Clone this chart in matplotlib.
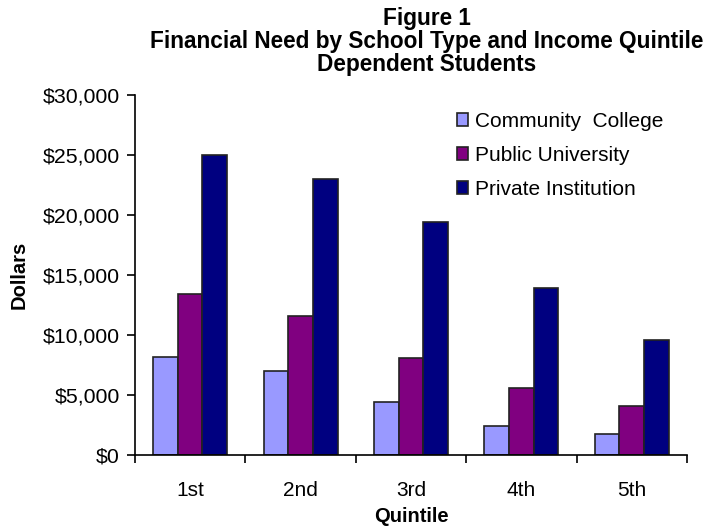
import numpy as np
import matplotlib.pyplot as plt
from matplotlib.ticker import FuncFormatter

plt.rcParams['font.family'] = ['Liberation Sans', 'DejaVu Sans']

quintiles = ["1st", "2nd", "3rd", "4th", "5th"]
community = [8200, 7000, 4400, 2400, 1750]
public = [13400, 11600, 8100, 5600, 4100]
private = [25000, 23000, 19400, 13900, 9600]

series = [("Community  College", community, "#9999FF"),
          ("Public University", public, "#800080"),
          ("Private Institution", private, "#000080")]

fig = plt.figure(figsize=(7.16, 5.29), dpi=100)
ax = fig.add_axes([0.1885, 0.14, 0.771, 0.6805])

x = np.arange(len(quintiles))
w = 0.223
for i, (name, vals, col) in enumerate(series):
    ax.bar(x + (i - 1) * w, vals, w, color=col, edgecolor="#222222",
           linewidth=1.2, label=name)

ax.set_xlim(-0.5, len(quintiles) - 0.5)
ax.set_ylim(0, 30000)
ax.set_yticks(np.arange(0, 30001, 5000))
ax.yaxis.set_major_formatter(FuncFormatter(lambda v, p: "${:,.0f}".format(v)))
ax.set_xticks(x)
ax.set_xticklabels(quintiles)
ax.set_xticks(np.arange(-0.5, len(quintiles), 1), minor=True)
ax.tick_params(axis="x", which="major", length=0, pad=19, labelsize=15)
ax.tick_params(axis="x", which="minor", length=6, width=1.2, direction="out")
ax.tick_params(axis="y", length=6, width=1.2, labelsize=15.3, pad=5)

for s in ["top", "right"]:
    ax.spines[s].set_visible(False)
for s in ["left", "bottom"]:
    ax.spines[s].set_linewidth(1.2)

ax.set_xlabel("Quintile", fontsize=14.5, fontweight="bold", labelpad=5)
ax.set_ylabel("Dollars", fontsize=14.5, fontweight="bold", labelpad=10)

fig.suptitle("Figure 1\nFinancial Need by School Type and Income Quintile\nDependent Students",
             x=0.596, y=0.987, fontsize=16.3, fontweight="bold", linespacing=1.0)

leg = ax.legend(loc="upper left", bbox_to_anchor=(457 / 716, 1 - 112 / 529),
                bbox_transform=fig.transFigure, frameon=False, borderpad=0,
                borderaxespad=0, fontsize=15, handlelength=0.53, handleheight=0.53,
                handletextpad=0.35, labelspacing=0.72)

fig.savefig("out.png", dpi=100)
